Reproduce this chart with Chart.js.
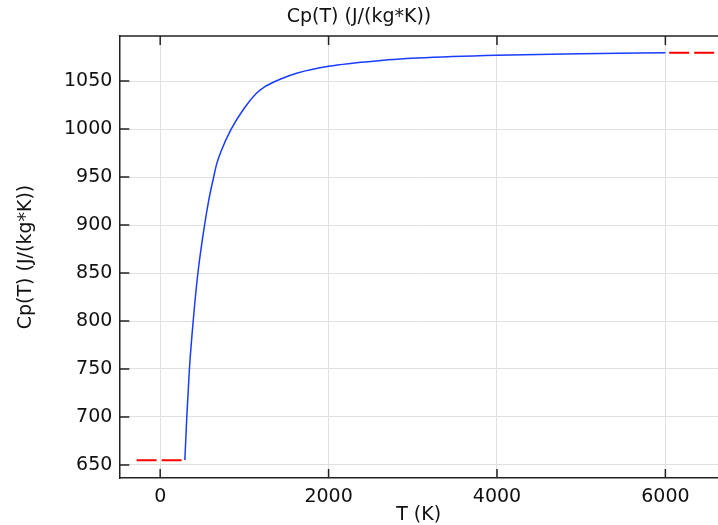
<!DOCTYPE html>
<html>
<head>
<meta charset="utf-8">
<script src="https://cdn.jsdelivr.net/npm/chart.js@4"></script>
<style>
  html, body { margin: 0; padding: 0; background: #fff; }
  #wrap { width: 718px; height: 525px; }
</style>
</head>
<body>
<div id="wrap"><canvas id="cp-chart"></canvas></div>
<script>
// values
const tempK = [293, 316, 347, 392, 448, 527, 577, 635, 672, 723, 843, 1000, 1140, 1240, 1440, 1630, 2000, 2620, 3050, 4000, 5000, 6000];
const cpVals = [655, 700, 750, 800, 850, 900, 926, 950, 964, 977, 1000, 1022, 1037, 1044, 1052.5, 1058.5, 1065.5, 1071.5, 1074, 1077, 1078.5, 1079.5];
// constant extrapolation outside the defined range (red dashes)
const lowExtrapT = [-280, 293];
const lowExtrapCp = [655, 655];
const highExtrapT = [6045, 6625];
const highExtrapCp = [1079.5, 1079.5];
const xTicks = [0, 2000, 4000, 6000];
const yTicks = [650, 700, 750, 800, 850, 900, 950, 1000, 1050];

const toPts = (xs, ys) => xs.map((v, i) => ({x: v, y: ys[i]}));

const font = 'DejaVu Sans';
const txt = '#111';

const innerTicks = {
    id: 'innerTicks',
    afterDraw(chart) {
        const {ctx, chartArea: a, scales: {x, y}} = chart;
        ctx.save();
        ctx.strokeStyle = '#222';
        ctx.lineWidth = 1.5;
        ctx.beginPath();
        ctx.moveTo(a.left, a.top);
        ctx.lineTo(a.right, a.top);
        x.ticks.forEach(t => {
            const px = x.getPixelForValue(t.value);
            ctx.moveTo(px, a.bottom);
            ctx.lineTo(px, a.bottom - 9);
            ctx.moveTo(px, a.top);
            ctx.lineTo(px, a.top + 9);
        });
        y.ticks.forEach(t => {
            const py = y.getPixelForValue(t.value);
            ctx.moveTo(a.left, py);
            ctx.lineTo(a.left + 10, py);
        });
        ctx.stroke();
        ctx.restore();
    }
};

new Chart(document.getElementById('cp-chart'), {
    type: 'scatter',
    data: {
        datasets: [{
            data: toPts(tempK, cpVals),
            showLine: true,
            borderColor: 'rgb(25,60,255)',
            borderWidth: 1.5,
            pointRadius: 0,
            cubicInterpolationMode: 'monotone'
        }, {
            data: toPts(lowExtrapT, lowExtrapCp),
            showLine: true,
            borderColor: 'rgb(255,0,0)',
            borderWidth: 2,
            borderDash: [20, 5],
            pointRadius: 0
        }, {
            data: toPts(highExtrapT, highExtrapCp),
            showLine: true,
            borderColor: 'rgb(255,0,0)',
            borderWidth: 2,
            borderDash: [20, 5],
            pointRadius: 0
        }]
    },
    options: {
        responsive: true,
        maintainAspectRatio: false,
        animation: false,
        layout: { padding: { left: 0, right: 0, top: 0, bottom: 0 } },
        plugins: {
            legend: { display: false },
            tooltip: { enabled: false },
            title: {
                display: true,
                text: 'Cp(T) (J/(kg*K))',
                color: txt,
                font: { family: font, size: 19, weight: 'normal', lineHeight: 1 },
                padding: { top: 8, bottom: 9 }
            }
        },
        scales: {
            x: {
                type: 'linear',
                min: -485,
                max: 6625,
                afterBuildTicks: s => { s.ticks = xTicks.map(v => ({value: v})); },
                grid: { color: '#e0e0e0', drawTicks: false },
                border: { color: '#222', width: 1.5 },
                ticks: {
                    color: txt, padding: 10, maxRotation: 0,
                    font: { family: font, size: 19, lineHeight: 1 },
                    callback: v => String(v)
                },
                title: {
                    display: true,
                    text: 'T (K)',
                    color: txt,
                    font: { family: font, size: 19, lineHeight: 1 },
                    padding: { top: -11, bottom: 0 }
                }
            },
            y: {
                min: 636.4,
                max: 1097,
                afterBuildTicks: s => { s.ticks = yTicks.map(v => ({value: v})); },
                grid: { color: '#e0e0e0', drawTicks: false },
                border: { color: '#222', width: 1.5 },
                ticks: {
                    color: txt, padding: 7,
                    font: { family: font, size: 19, lineHeight: 1 },
                    callback: v => String(v)
                },
                title: {
                    display: true,
                    text: 'Cp(T) (J/(kg*K))',
                    color: txt,
                    font: { family: font, size: 19, lineHeight: 1 },
                    padding: { top: 17, bottom: 21 }
                }
            }
        }
    },
    plugins: [innerTicks]
});
</script>
</body>
</html>
